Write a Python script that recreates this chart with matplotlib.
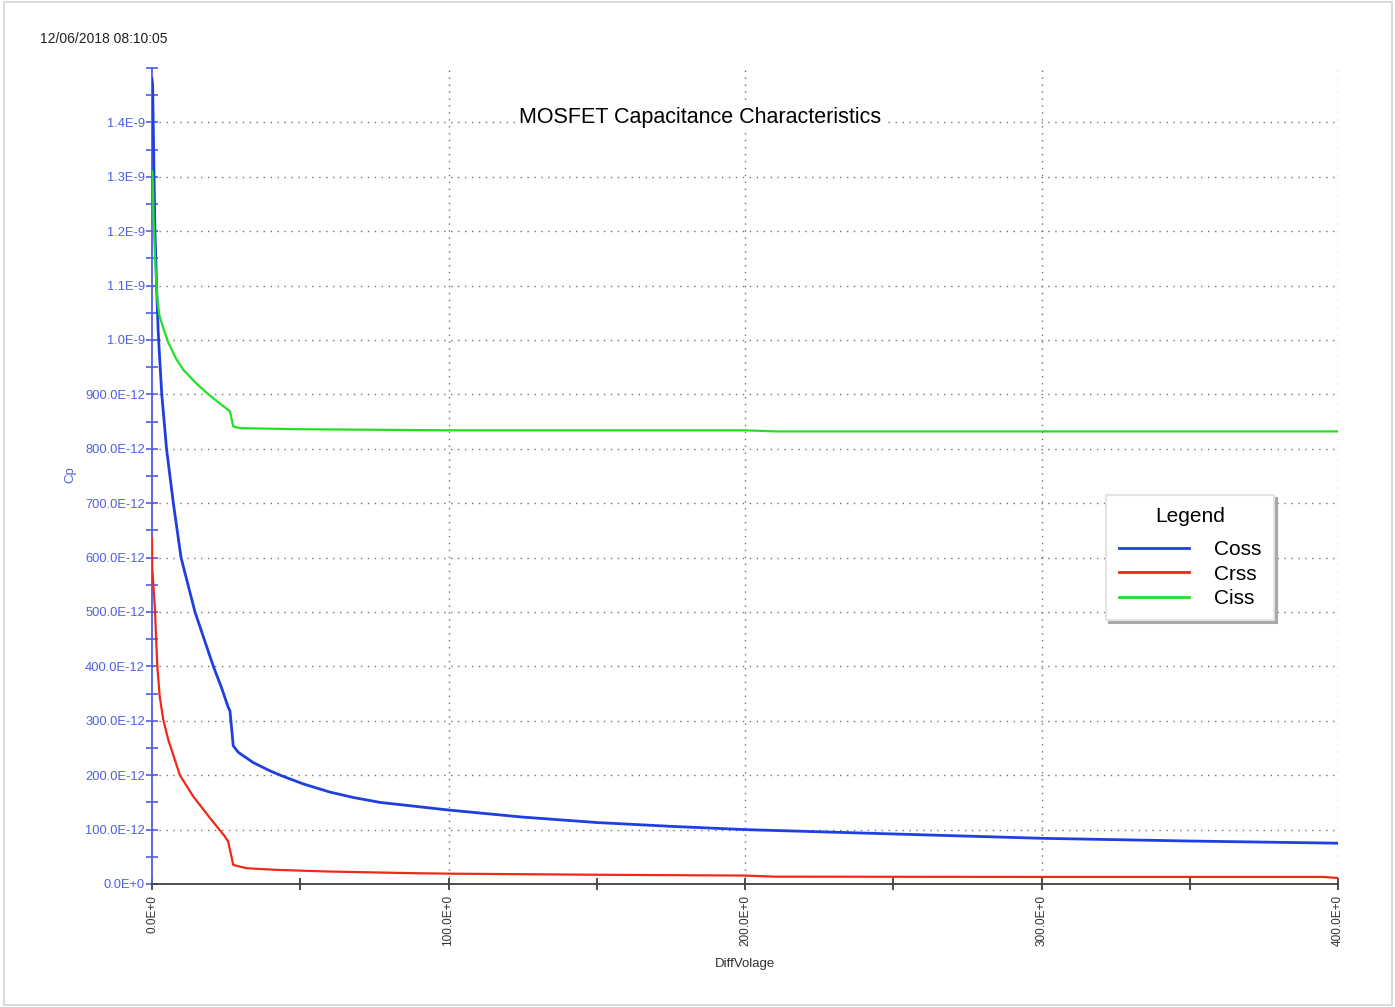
import matplotlib
matplotlib.use("Agg")
import matplotlib.pyplot as plt
from matplotlib.patches import Rectangle
import numpy as np

plt.rcParams['font.family'] = ['Liberation Sans', 'DejaVu Sans']

# ---------------- data (capacitance in pF, voltage in V) ----------------
coss_v = [0, 0.2, 0.45, 0.7, 1.0, 1.6, 2.1, 2.7, 3.3, 4.9, 7.2, 9.8, 14.5,
          20.7, 23.5, 25.7, 26.3, 27.4, 29.1, 34.2, 39.8, 43.7, 51, 60, 67.9, 76.9, 100, 125, 150,
          175, 200, 250, 300, 350, 400]
coss_pf = [1480, 1470, 1385, 1295, 1200, 1090, 1015, 955, 900, 800, 700, 600, 500,
           400, 360, 325, 318, 254, 242, 223, 208, 199, 184, 169, 159, 150, 136, 123, 113,
           106, 100, 92, 84, 79, 75]

crss_v = [0, 0.05, 0.4, 1.0, 1.4, 1.8, 2.6, 3.8, 5.5, 9.4, 13.9, 19.6, 24.5, 25.7, 27.4,
          31.9, 42, 59, 87, 100, 150, 200, 210, 300, 395, 400]
crss_pf = [636, 583, 555, 505, 450, 400, 345, 302, 265, 200, 161, 121, 88, 78, 35,
           29, 26, 23, 20, 19, 17, 15.5, 13.5, 13, 13, 11]

ciss_v = [0, 0.2, 0.5, 1.0, 1.8, 2.5, 3.8, 5.5, 8.3, 10.6, 15, 18.4, 22, 26.3, 27.4,
          29.7, 50, 100, 200, 210, 400]
ciss_pf = [1310, 1304, 1230, 1154, 1074, 1045, 1022, 995, 964, 945, 920, 903, 887, 869, 841,
           838, 836, 834, 834, 832, 832]

series_names = ["Coss", "Crss", "Ciss"]
series_colors = ["#1f3fe0", "#f02818", "#22e022"]

y_ticks_pf = [0, 100, 200, 300, 400, 500, 600, 700, 800, 900, 1000, 1100, 1200, 1300, 1400, 1500]
y_tick_labels = ["0.0E+0", "100.0E-12", "200.0E-12", "300.0E-12", "400.0E-12", "500.0E-12",
                 "600.0E-12", "700.0E-12", "800.0E-12", "900.0E-12", "1.0E-9", "1.1E-9",
                 "1.2E-9", "1.3E-9", "1.4E-9", ""]
x_ticks = [0, 100, 200, 300, 400]
x_tick_labels = ["0.0E+0", "100.0E+0", "200.0E+0", "300.0E+0", "400.0E+0"]

title = "MOSFET Capacitance Characteristics"
timestamp = "12/06/2018 08:10:05"

# ---------------- figure ----------------
W, H = 1395, 1007
fig = plt.figure(figsize=(W / 100, H / 100), dpi=100)
fig.patch.set_facecolor("white")
fig.patches.append(Rectangle((4 / W, 2 / H), 1388 / W, 1003 / H, transform=fig.transFigure,
                             fill=False, edgecolor="#d4d4d4", linewidth=1.2))

L, R, T, B = 152, 1338, 68, 884
ax = fig.add_axes([L / W, 1 - B / H, (R - L) / W, (B - T) / H])

scale = 1e-12
for xs, ys, name, col, lw in [(coss_v, coss_pf, series_names[0], series_colors[0], 2.0),
                              (crss_v, crss_pf, series_names[1], series_colors[1], 1.6),
                              (ciss_v, ciss_pf, series_names[2], series_colors[2], 1.6)]:
    ax.plot(xs, np.array(ys) * scale, color=col, lw=lw, label=name, zorder=3)

ax.set_xlim(0, 400)
ax.set_ylim(0, 1500 * scale)

# grid lines (dotted)
for yv in y_ticks_pf[1:-1]:
    ax.axhline(yv * scale, color="#707070", lw=1.0, ls=(0, (1, 4)), zorder=1)
for xv in x_ticks[1:]:
    ax.axvline(xv, color="#707070", lw=1.0, ls=(0, (1, 4)), zorder=1)

ax.spines["top"].set_visible(False)
ax.spines["right"].set_visible(False)
yblue = "#4f5fe6"
ax.spines["left"].set_color(yblue)
ax.spines["left"].set_linewidth(1.3)
ax.spines["bottom"].set_color("#404040")
ax.spines["bottom"].set_linewidth(1.3)

ax.set_yticks(np.array(y_ticks_pf) * scale)
ax.set_yticklabels(y_tick_labels)
ax.set_yticks(np.arange(50, 1500, 100) * scale, minor=True)
ax.tick_params(axis="y", which="both", direction="inout", length=8, width=1.2,
               colors=yblue, labelsize=9.3, pad=1)

ax.set_xticks(x_ticks)
ax.set_xticklabels(x_tick_labels, rotation=90, va="top", ha="center")
ax.set_xticks([50, 150, 250, 350], minor=True)
ax.tick_params(axis="x", which="both", direction="inout", length=8, width=1.2,
               colors="#303030", labelsize=8.5, pad=4)

# axis labels
fig.text(70 / W, 1 - 475 / H, "Cp", rotation=90, color=yblue, fontsize=9.5,
         ha="center", va="center")
fig.text(745 / W, 1 - 964 / H, "DiffVolage", color="#303030", fontsize=9.5,
         ha="center", va="center")

# timestamp
fig.text(40 / W, 1 - 39 / H, timestamp, color="#202020", fontsize=10, ha="left", va="center")

# title inside plot
ax.text((700 - L) / (R - L), (B - 118) / (B - T), title, transform=ax.transAxes,
        fontsize=15.5, color="black", ha="center", va="center", zorder=4,
        bbox=dict(facecolor="white", edgecolor="none", pad=1.5))

# legend
leg = ax.legend(title="Legend", loc="upper left",
                bbox_to_anchor=((1106 - L) / (R - L), (B - 495) / (B - T)),
                borderaxespad=0, fontsize=15, title_fontsize=15, fancybox=False,
                frameon=True, edgecolor="#e4e4e4", facecolor="white", framealpha=1,
                shadow={"color": "#a8a8a8", "alpha": 1.0},
                handlelength=3.4, handletextpad=1.2, labelspacing=0.25,
                borderpad=0.6)
leg.get_frame().set_linewidth(1.5)
leg._legend_box.sep = 10
for line in leg.get_lines():
    line.set_linewidth(2.0)
leg.set_zorder(5)

fig.savefig("out.png", dpi=100, facecolor="white")
